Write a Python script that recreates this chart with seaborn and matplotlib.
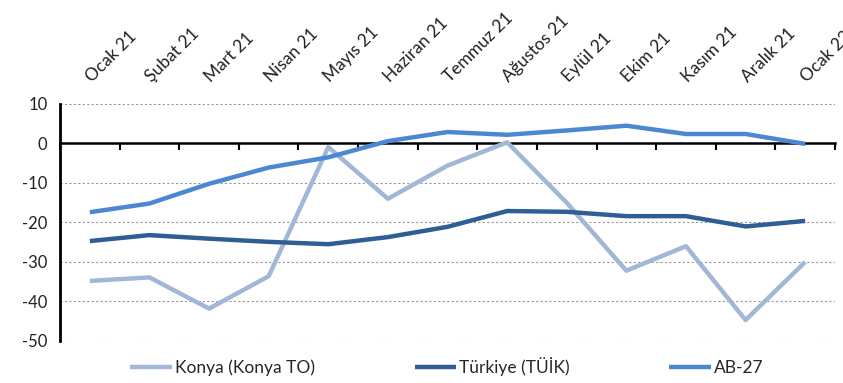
import numpy as np
import pandas as pd
import matplotlib
matplotlib.use("Agg")
import matplotlib.pyplot as plt
import matplotlib.transforms as mtransforms
from matplotlib.ticker import FixedLocator
import seaborn as sns

# Veriler (grafikten okunmuş tahmini değerler)
AYLAR = ['Ocak 21', 'Şubat 21', 'Mart 21', 'Nisan 21', 'Mayıs 21', 'Haziran 21',
         'Temmuz 21', 'Ağustos 21', 'Eylül 21', 'Ekim 21', 'Kasım 21', 'Aralık 21',
         'Ocak 22']
KONYA = [-34.8, -33.9, -41.8, -33.6, -0.9, -14.0, -5.6, 0.3, -15.0, -32.2, -26.0, -44.7, -30.0]
TURKIYE = [-24.7, -23.2, -24.1, -24.9, -25.5, -23.7, -21.1, -17.1, -17.3, -18.4, -18.4, -21.0, -19.6]
AB27 = [-17.4, -15.2, -10.2, -6.1, -3.5, 0.6, 2.9, 2.2, 3.3, 4.5, 2.4, 2.4, -0.1]

SERILER = ['Konya (Konya TO)', 'Türkiye (TÜİK)', 'AB-27']
RENKLER = {'Konya (Konya TO)': '#A2B6D8', 'Türkiye (TÜİK)': '#2F5E94', 'AB-27': '#4C88D2'}
KALINLIK = {'Konya (Konya TO)': 2.6, 'Türkiye (TÜİK)': 3.0, 'AB-27': 3.0}

sns.set_style("white")
plt.rcParams['font.family'] = ['Lato', 'DejaVu Sans']
plt.rcParams['axes.unicode_minus'] = False

x = np.arange(len(AYLAR))
df = pd.concat([
    pd.DataFrame({'x': x, 'deger': KONYA, 'seri': SERILER[0]}),
    pd.DataFrame({'x': x, 'deger': TURKIYE, 'seri': SERILER[1]}),
    pd.DataFrame({'x': x, 'deger': AB27, 'seri': SERILER[2]}),
])

fig = plt.figure(figsize=(8.43, 3.83), dpi=100)
ax = fig.add_axes([0.0712, 0.1097, 0.9193, 0.6188])

for seri in SERILER:
    sns.lineplot(data=df[df['seri'] == seri], x='x', y='deger', ax=ax,
                 color=RENKLER[seri], linewidth=KALINLIK[seri], label=seri,
                 solid_capstyle='butt', zorder=3)

ax.set_xlim(-0.5, len(AYLAR) - 0.5)
ax.set_ylim(-50, 10)
ax.set_yticks(np.arange(-50, 11, 10))
ax.set_xlabel('')
ax.set_ylabel('')

# Izgara çizgileri
for yv in [10, -10, -20, -30, -40, -50]:
    ax.axhline(yv, color='#999999', linestyle=(0, (2, 2)), linewidth=0.8, zorder=1)

# Kenarlıklar: alt kenar sıfır çizgisi olarak
for s in ['top', 'right']:
    ax.spines[s].set_visible(False)
ax.spines['left'].set_linewidth(2)
ax.spines['left'].set_color('black')
ax.spines['bottom'].set_position(('data', 0))
ax.spines['bottom'].set_linewidth(1.8)
ax.spines['bottom'].set_color('black')
ax.spines['bottom'].set_zorder(2)
ax.tick_params(axis='y', direction='out', length=5, width=1.5, labelsize=12,
               pad=4, colors='black', labelcolor='#222222')

# Ay etiketleri üstte (ana işaretler), kategori sınırları sıfır çizgisinde (ara işaretler)
ax.set_xticks(x)
ax.set_xticklabels(AYLAR, rotation=45, ha='left', va='baseline',
                   rotation_mode='anchor', fontsize=12.5, color='#222222')
ax.xaxis.set_minor_locator(FixedLocator(np.arange(len(AYLAR) + 1) - 0.5))
ax.tick_params(axis='x', which='major', length=0, pad=15, top=True, bottom=False,
               labeltop=True, labelbottom=False)
ax.tick_params(axis='x', which='minor', length=5, width=1.5, direction='out',
               top=False, bottom=True, colors='black')
kaydir = mtransforms.ScaledTranslation(2 / 100, 0, fig.dpi_scale_trans)
for lbl in ax.get_xticklabels():
    lbl.set_transform(lbl.get_transform() + kaydir)

ax.get_legend().remove()
handles, labels = ax.get_legend_handles_labels()
for h in handles:
    h.set_linewidth(3.2)
fig.legend(handles, labels, loc='center', bbox_to_anchor=(0.530, 0.044), ncol=3,
           frameon=False, fontsize=12.5, handlelength=2.4, handletextpad=0.15,
           columnspacing=5.75)

fig.savefig('out.png', dpi=100)
